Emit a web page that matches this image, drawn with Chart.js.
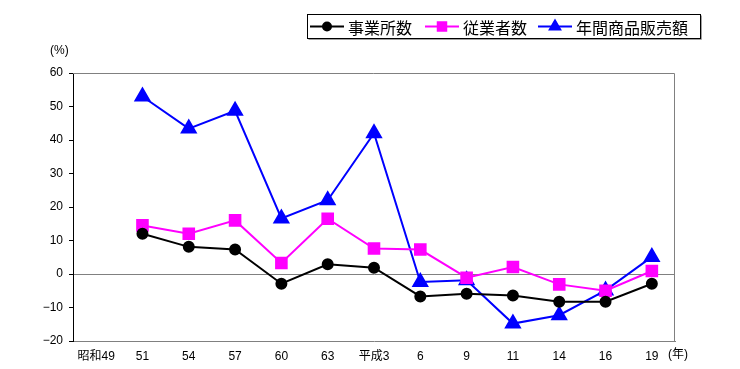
<!DOCTYPE html>
<html>
<head>
<meta charset="utf-8">
<script src="https://cdn.jsdelivr.net/npm/chart.js@4/dist/chart.umd.min.js"></script>
<style>
    html, body { margin: 0; padding: 0; background: #ffffff; }
    #wrap { width: 740px; height: 369px; }
</style>
</head>
<body>
<div id="wrap"><canvas id="chart" width="740" height="369"></canvas></div>
<script>
// 年次（昭和49 は基準年なので値なし）
const years = ["昭和49", "51", "54", "57", "60", "63", "平成3", "6", "9", "11", "14", "16", "19"];

// 前回比増減率 (%)
const establishments = [null, 12.0, 8.1, 7.3, -2.9, 2.9, 1.9, -6.7, -5.9, -6.4, -8.3, -8.3, -2.9];
const employees = [null, 14.5, 12.0, 16.0, 3.3, 16.5, 7.6, 7.3, -1.1, 2.1, -3.1, -5.0, 0.9];
const sales = [null, 53.0, 43.4, 48.7, 16.6, 22.0, 42.0, -2.4, -1.9, -14.8, -12.3, -4.9, 5.1];

const yTicks = [-20, -10, 0, 10, 20, 30, 40, 50, 60];

const labelFont = "Liberation Sans, 'Noto Sans CJK JP', sans-serif";
const cjkFont = "'Noto Sans CJK JP', sans-serif";

// 枠線・単位・凡例を描く
const decorPlugin = {
    id: "decor",
    beforeDatasetsDraw(chart) {
        const { ctx, chartArea: a } = chart;
        ctx.save();
        ctx.strokeStyle = "#808080";
        ctx.lineWidth = 1;
        ctx.beginPath();
        ctx.moveTo(a.left, a.top + 0.5);
        ctx.lineTo(a.right - 0.5, a.top + 0.5);
        ctx.lineTo(a.right - 0.5, a.bottom);
        ctx.stroke();
        ctx.restore();
    },
    afterDraw(chart) {
        const { ctx } = chart;
        ctx.save();
        ctx.fillStyle = "#000";
        ctx.font = "12px " + labelFont;
        ctx.textBaseline = "middle";
        ctx.textAlign = "left";
        ctx.fillText("(%)", 50, 51);
        ctx.fillText("(年)", 668, 355);

        // 凡例
        const box = { x: 307.5, y: 14.5, w: 393, h: 24 };
        ctx.strokeStyle = "#000";
        ctx.lineWidth = 1;
        ctx.strokeRect(box.x, box.y, box.w, box.h);
        ctx.strokeStyle = "#a0a0a0";
        ctx.beginPath();
        ctx.moveTo(box.x + 1, box.y + box.h + 1);
        ctx.lineTo(box.x + box.w + 1, box.y + box.h + 1);
        ctx.lineTo(box.x + box.w + 1, box.y + 1);
        ctx.stroke();

        const starts = [310, 425, 538];
        const cy = box.y + box.h / 2;
        ctx.font = "16px " + cjkFont;
        chart.data.datasets.forEach((ds, i) => {
            const x0 = starts[i];
            ctx.strokeStyle = ds.borderColor;
            ctx.lineWidth = 2;
            ctx.beginPath();
            ctx.moveTo(x0, cy);
            ctx.lineTo(x0 + 34, cy);
            ctx.stroke();
            Chart.helpers.drawPoint(ctx, {
                pointStyle: ds.pointStyle,
                radius: ds.legendRadius,
                borderWidth: 1,
                rotation: 0
            }, x0 + 17, cy);
            ctx.fillStyle = ds.borderColor;
            ctx.strokeStyle = ds.borderColor;
            ctx.fill();
            ctx.fillStyle = "#000";
            ctx.fillText(ds.label, x0 + 38, cy + 1);
        });
        ctx.restore();
    }
};

new Chart(document.getElementById("chart").getContext("2d"), {
    type: "line",
    data: {
        labels: years,
        datasets: [
            {
                label: "事業所数",
                data: establishments,
                borderColor: "#000000",
                backgroundColor: "#000000",
                pointStyle: "circle",
                pointRadius: 5,
                legendRadius: 4,
                borderWidth: 2
            },
            {
                label: "従業者数",
                data: employees,
                borderColor: "#ff00ff",
                backgroundColor: "#ff00ff",
                pointStyle: "rect",
                pointRadius: 7.5,
                legendRadius: 6,
                borderWidth: 2
            },
            {
                label: "年間商品販売額",
                data: sales,
                borderColor: "#0000ff",
                backgroundColor: "#0000ff",
                pointStyle: "triangle",
                pointRadius: 8,
                legendRadius: 6,
                borderWidth: 2
            }
        ]
    },
    options: {
        responsive: false,
        animation: false,
        layout: { padding: { left: 0, right: 65, top: 73, bottom: 0 } },
        plugins: {
            legend: { display: false },
            tooltip: { enabled: false }
        },
        elements: {
            line: { tension: 0 },
            point: { borderWidth: 1, hoverRadius: 5 }
        },
        scales: {
            x: {
                offset: true,
                grid: { display: false, drawTicks: false },
                border: { display: true, color: "#808080", width: 1 },
                ticks: {
                    color: "#000",
                    font: { size: 12, family: labelFont },
                    padding: 8,
                    maxRotation: 0,
                    autoSkip: false
                },
                afterFit(scale) { scale.height = 28; }
            },
            y: {
                min: -20,
                max: 60,
                afterBuildTicks(scale) { scale.ticks = yTicks.map(v => ({ value: v })); },
                grid: {
                    color: ctx => (ctx.tick && ctx.tick.value === 0 ? "#808080" : "rgba(0,0,0,0)"),
                    tickColor: "#000",
                    tickLength: 4,
                    lineWidth: 1
                },
                border: { display: true, color: "#000", width: 1 },
                ticks: {
                    color: "#000",
                    font: { size: 12, family: labelFont },
                    padding: 6,
                    callback: v => String(v).replace("-", "\u2212")
                },
                afterFit(scale) { scale.width = 73; }
            }
        }
    },
    plugins: [decorPlugin]
});
</script>
</body>
</html>
